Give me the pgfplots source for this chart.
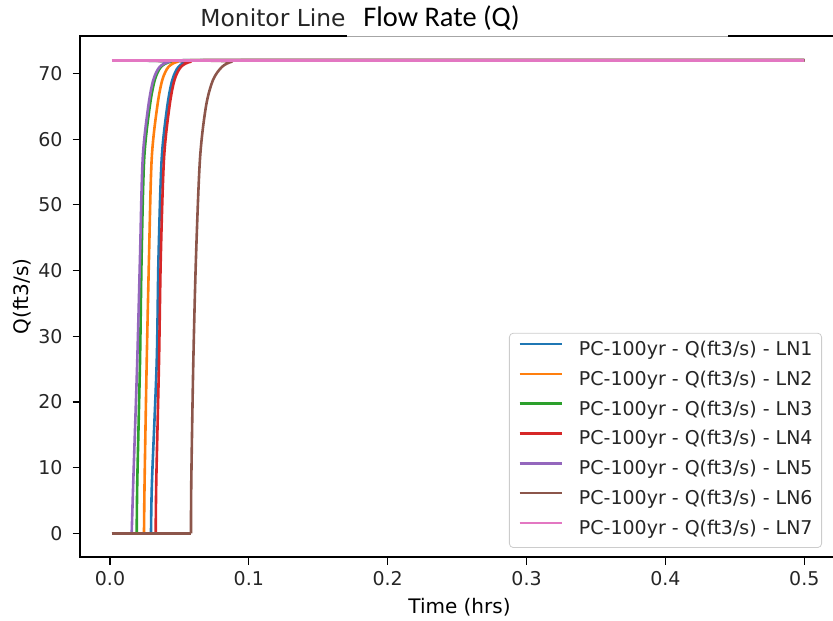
\documentclass[border=0pt]{standalone}
\usepackage{fontspec}
\setmainfont{DejaVu Sans}
\newfontfamily\carlito{Carlito}
\usepackage{pgfplots}
\pgfplotsset{compat=1.18}
\definecolor{c0}{HTML}{1F77B4}
\definecolor{c1}{HTML}{FF7F0E}
\definecolor{c2}{HTML}{2CA02C}
\definecolor{c3}{HTML}{D62728}
\definecolor{c4}{HTML}{9467BD}
\definecolor{c5}{HTML}{8C564B}
\definecolor{c6}{HTML}{E377C2}
\begin{document}
\begin{tikzpicture}
\useasboundingbox (0,0) rectangle (416.5pt,310pt);
\clip (0,0) rectangle (416.5pt,310pt);
\begin{axis}[
  at={(40pt,31.5pt)}, anchor=south west,
  scale only axis, width=379.5pt, height=260.5pt,
  xmin=-0.0216, xmax=0.525, ymin=-3.6, ymax=75.7,
  xtick={0,0.1,0.2,0.3,0.4,0.5}, ytick={0,10,20,30,40,50,60,70},
  xtick pos=left, ytick pos=left,
  tick align=outside, major tick length=3.75pt,
  tick style={black, line width=0.6pt},
  axis line style={line width=0.8pt},
  /pgf/number format/assume math mode=true,
  tick label style={font=\fontsize{9.5}{11}\selectfont, text=black!85},
  xticklabel style={/pgf/number format/.cd,fixed,fixed zerofill,precision=1},
  yticklabel style={xshift=-1.5pt},
  xlabel={Time (hrs)}, ylabel={Q(ft3/s)},
  label style={font=\fontsize{9.5}{11}\selectfont, text=black!85},
  every axis x label/.style={at={(axis description cs:0.5,-0.096)}, anchor=center},
  every axis y label/.style={at={(axis description cs:-0.0764,0.5)}, rotate=90, anchor=center},
  legend cell align=left,
  legend image code/.code={\draw[#1, sharp plot, line width=1.3pt] (0pt,3.4pt) -- (21pt,3.4pt);},
  legend style={at={(axis description cs:0.9776,0.0173)}, anchor=south east,
    font=\fontsize{9.5}{11}\selectfont, text=black!85, draw=black!20, rounded corners=2pt,
    fill=white, fill opacity=0.8, text opacity=1,
    inner xsep=4.5pt, inner ysep=4.2pt, row sep=5.5pt,
    nodes={inner sep=0pt, text height=7pt, text depth=2.4pt},
    /tikz/every odd column/.append style={column sep=8pt}},
  every axis plot/.append style={line width=1.3pt, line join=round},
]
% LN1
\addplot[c0, forget plot] coordinates {(0.0014,0) (0.02953,0)};
\addplot[c0, smooth, tension=0.5] coordinates {(0.02953,0) (0.03025,8) (0.03363,26) (0.03493,42) (0.03723,57) (0.04126,65) (0.04487,69) (0.04933,71) (0.05617,71.8) (0.06841,72) (0.5,72)};
\addlegendentry{PC-100yr - Q(ft3/s) - LN1}
% LN2
\addplot[c1, forget plot] coordinates {(0.0014,0) (0.02449,0)};
\addplot[c1, smooth, tension=0.5] coordinates {(0.02449,0) (0.02492,8) (0.02643,26) (0.02809,42) (0.03003,57) (0.03406,65) (0.03766,69) (0.04213,71) (0.04897,71.8) (0.06121,72) (0.5,72)};
\addlegendentry{PC-100yr - Q(ft3/s) - LN2}
% LN3
\addplot[c2, forget plot] coordinates {(0.0014,0) (0.01923,0)};
\addplot[c2, smooth, tension=0.5] coordinates {(0.01923,0) (0.01966,8) (0.02160,26) (0.02276,42) (0.02463,57) (0.02866,65) (0.03226,69) (0.03673,71) (0.04393,71.8) (0.05617,72) (0.5,72)};
\addlegendentry{PC-100yr - Q(ft3/s) - LN3}
% LN4
\addplot[c3, forget plot] coordinates {(0.0014,0) (0.03291,0)};
\addplot[c3, smooth, tension=0.5] coordinates {(0.03291,0) (0.03334,8) (0.03529,26) (0.03658,42) (0.03889,57) (0.04285,65) (0.04645,69) (0.05113,71) (0.05833,71.8) (0.07057,72) (0.5,72)};
\addlegendentry{PC-100yr - Q(ft3/s) - LN4}
% LN5
\addplot[c4, forget plot] coordinates {(0.0014,0) (0.01563,0)};
\addplot[c4, smooth, tension=0.5] coordinates {(0.01563,0) (0.01678,8) (0.01959,26) (0.02160,42) (0.02355,57) (0.02758,65) (0.03118,69) (0.03579,71) (0.04299,71.8) (0.05524,72) (0.5,72)};
\addlegendentry{PC-100yr - Q(ft3/s) - LN5}
% LN6
\addplot[c5, forget plot] coordinates {(0.0014,0) (0.05833,0)};
\addplot[c5, smooth, tension=0.5] coordinates {(0.05833,0) (0.05855,8) (0.05999,26) (0.06193,42) (0.06481,57) (0.06913,65) (0.07418,69) (0.08066,71) (0.08786,71.8) (0.09722,72) (0.5,72)};
\addlegendentry{PC-100yr - Q(ft3/s) - LN6}
% LN7
\addplot[c6] coordinates {(0.0012,72) (0.5,72)};
\addlegendentry{PC-100yr - Q(ft3/s) - LN7}
\end{axis}
\fill[white] (173.5pt,291.3pt) rectangle (364pt,310pt);
\draw[black!35, line width=0.4pt] (173.5pt,291.7pt) -- (364pt,291.7pt);
\node[anchor=base west, inner sep=0pt, font=\fontsize{11.7}{14}\selectfont, text=black!85] at (100pt,296.5pt) {Monitor Line};
\node[anchor=base west, inner sep=0pt, font=\carlito\fontsize{14.2}{17}\selectfont, text=black] at (181.5pt,296.5pt) {Flow Rate (Q)};
\end{tikzpicture}
\end{document}
